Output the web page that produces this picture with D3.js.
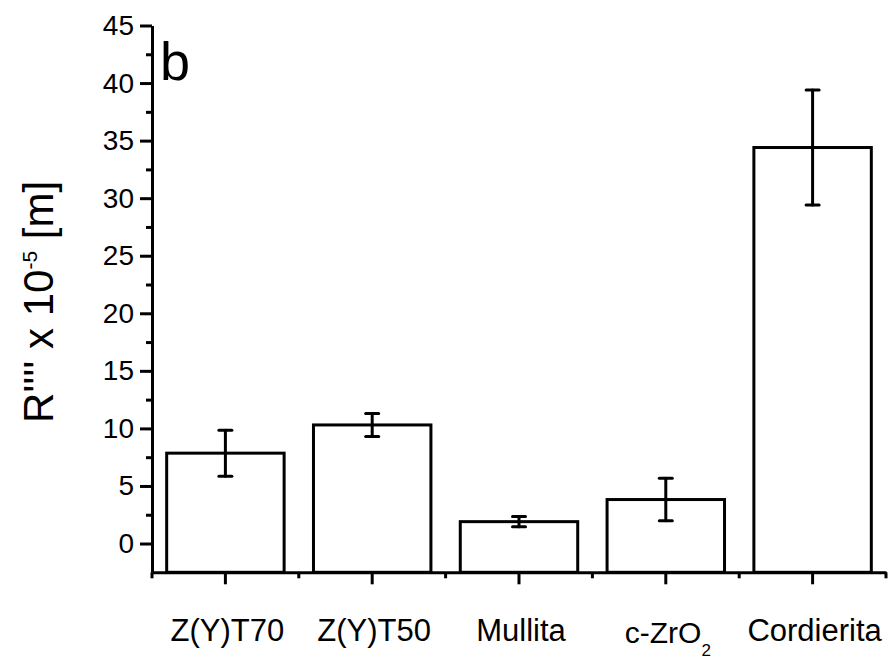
<!DOCTYPE html>
<html>
<head>
<meta charset="utf-8">
<script src="https://cdn.jsdelivr.net/npm/d3@7"></script>
<style>
  html, body { margin: 0; padding: 0; background: #fff; }
  svg { display: block; font-family: "Liberation Sans", Arial, sans-serif; }
</style>
</head>
<body>
<svg id="chart" width="895" height="661"></svg>
<script>
// Materials and their thermal shock parameter R'''' (x 10^-5 m)
const categories = ["Z(Y)T70", "Z(Y)T50", "Mullita", "c-ZrO2", "Cordierita"];
const values = [7.85, 10.3, 1.9, 3.82, 34.4];
const errors = [2.0, 1.0, 0.45, 1.84, 5.0];
const yTicks = [0, 5, 10, 15, 20, 25, 30, 35, 40, 45];
const yMinorTicks = [2.5, 7.5, 12.5, 17.5, 22.5, 27.5, 32.5, 37.5, 42.5];

const svg = d3.select("#chart");
const plotLeft = 152, plotRight = 886, plotTop = 25.5, plotBottom = 572.3;

const x = d3.scaleBand().domain(categories).range([plotLeft, plotRight]).padding(0);
const y = d3.scaleLinear().domain([-2.5, 45]).range([plotBottom, plotTop]);

const ink = "#000";
const sw = 3;

// Bars, drawn up from the bottom axis
const barW = x.bandwidth() * 0.8;
svg.append("g").selectAll("rect")
  .data(categories)
  .join("rect")
  .attr("x", (d) => x(d) + (x.bandwidth() - barW) / 2)
  .attr("y", (d, i) => y(values[i]))
  .attr("width", barW)
  .attr("height", (d, i) => y(-2.5) - y(values[i]))
  .attr("fill", "#fff")
  .attr("stroke", ink)
  .attr("stroke-width", sw);

// Error bars
const capW = 13;
const eb = svg.append("g").attr("stroke", ink).attr("stroke-width", sw).attr("stroke-linecap", "round");
categories.forEach((c, i) => {
  const cx = x(c) + x.bandwidth() / 2;
  const hi = y(values[i] + errors[i]);
  const lo = y(values[i] - errors[i]);
  eb.append("line").attr("x1", cx).attr("x2", cx).attr("y1", hi).attr("y2", lo);
  eb.append("line").attr("x1", cx - capW / 2).attr("x2", cx + capW / 2).attr("y1", hi).attr("y2", hi);
  eb.append("line").attr("x1", cx - capW / 2).attr("x2", cx + capW / 2).attr("y1", lo).attr("y2", lo);
});

// Y axis
const yAxis = svg.append("g")
  .attr("transform", `translate(${plotLeft},0)`)
  .call(d3.axisLeft(y).tickValues(yTicks).tickSize(12).tickSizeOuter(0).tickPadding(6).tickFormat(d3.format("d")));
yAxis.select(".domain").attr("stroke", ink).attr("stroke-width", sw);
yAxis.selectAll(".tick line").attr("stroke", ink).attr("stroke-width", sw);
yAxis.selectAll(".tick text")
  .attr("font-size", 28).attr("fill", ink)
  .attr("font-family", "'Liberation Sans', Arial, sans-serif");

const yMinor = svg.append("g")
  .attr("transform", `translate(${plotLeft},0)`)
  .call(d3.axisLeft(y).tickValues(yMinorTicks).tickSize(6).tickSizeOuter(0).tickFormat(""));
yMinor.select(".domain").remove();
yMinor.selectAll(".tick line").attr("stroke", ink).attr("stroke-width", sw);

// X axis
const xAxis = svg.append("g")
  .attr("transform", `translate(0,${plotBottom})`)
  .call(d3.axisBottom(x).tickSize(12).tickSizeOuter(0).tickFormat(""));
xAxis.select(".domain").attr("stroke", ink).attr("stroke-width", sw);
xAxis.selectAll(".tick line").attr("stroke", ink).attr("stroke-width", sw);

// Minor x ticks at the band boundaries
const bounds = categories.map((c) => x(c)).concat([x.range()[1]]);
svg.append("g").attr("stroke", ink).attr("stroke-width", sw)
  .selectAll("line").data(bounds).join("line")
  .attr("x1", (d) => d).attr("x2", (d) => d)
  .attr("y1", plotBottom).attr("y2", plotBottom + 6);

// Category labels (c-ZrO2 gets a subscript)
const lab = svg.append("g").attr("font-size", 31).attr("fill", ink).attr("text-anchor", "middle");
categories.forEach((c) => {
  const t = lab.append("text")
    .attr("x", x(c) + x.bandwidth() / 2 + 2)
    .attr("y", plotBottom + 69);
  const m = c.match(/^(.*?)(\d)$/);
  if (c === "c-ZrO2" && m) {
    t.attr("font-size", 30).attr("y", plotBottom + 71);
    t.append("tspan").text(m[1]);
    t.append("tspan").attr("font-size", 17).attr("dy", 13).text(m[2]);
  } else {
    t.text(c);
  }
});

// Y axis title
const title = svg.append("text")
  .attr("transform", "translate(53,302) rotate(-90)")
  .attr("text-anchor", "middle")
  .attr("font-size", 42)
  .attr("fill", ink);
title.append("tspan").text("R'''' x 10");
title.append("tspan").attr("font-size", 21).attr("dy", -16).text("-5");
title.append("tspan").attr("dy", 16).text(" [m]");

// Panel letter
svg.append("text")
  .attr("x", 160).attr("y", 80)
  .attr("font-size", 54)
  .attr("fill", ink)
  .text("b");
</script>
</body>
</html>
